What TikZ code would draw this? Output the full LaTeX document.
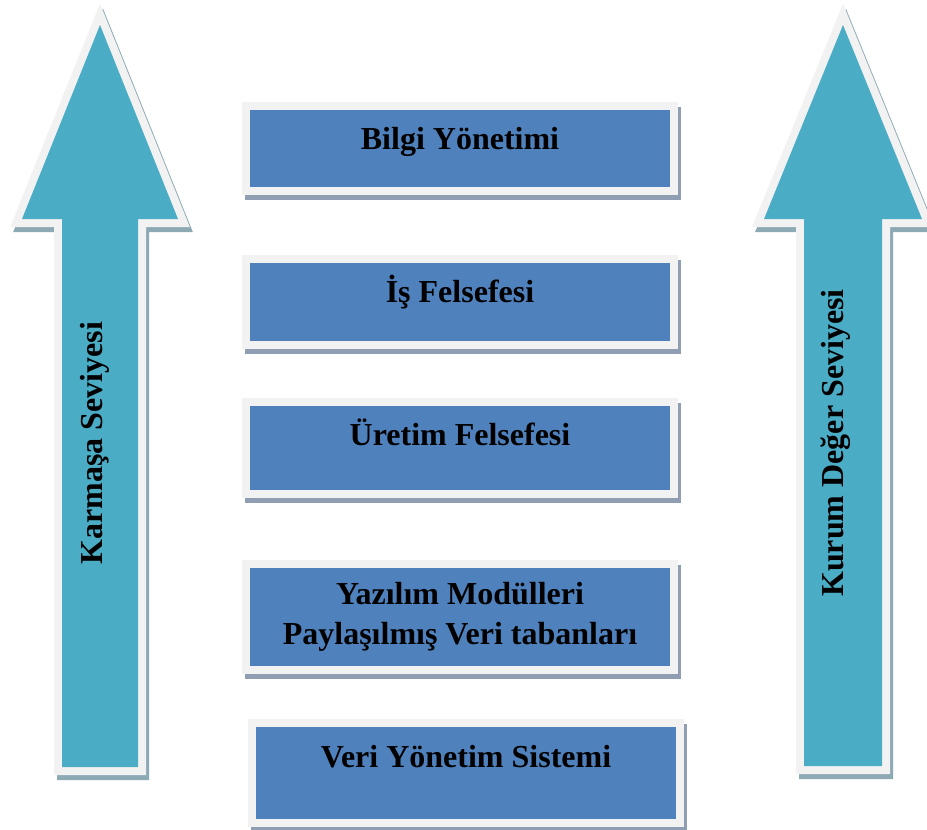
\documentclass[tikz,border=0pt]{standalone}
\usepackage{fontspec}
\setmainfont{Liberation Serif}
\definecolor{arrowfill}{HTML}{4BACC6}
\definecolor{boxfill}{HTML}{4F81BD}
\definecolor{rim}{HTML}{F2F2F2}
\definecolor{boxshade}{HTML}{909EB3}
\definecolor{arrowshade}{HTML}{8CA9B4}
\tikzset{
  layerbox/.style={rectangle, inner sep=0pt, fill=boxfill,
    minimum width=420pt,
    preaction={draw=boxshade, fill=boxshade, line width=16pt,
      transform canvas={xshift=3pt, yshift=-5pt}},
    preaction={draw=rim, line width=16pt}},
  layertext/.style={anchor=base, align=center, inner sep=0pt,
    font=\fontsize{32}{40}\selectfont\bfseries},
  sidetext/.style={anchor=base, rotate=90, inner sep=0pt,
    font=\fontsize{32}{40}\selectfont\bfseries},
  arrowshadow/.style={draw=arrowshade, fill=arrowshade, line width=16pt,
    line join=miter, transform canvas={xshift=3pt, yshift=-5pt}},
  arrowrim/.style={draw=rim, fill=rim, line width=16pt, line join=miter},
  arrowbody/.style={fill=arrowfill}
}
\begin{document}
\begin{tikzpicture}[x=1pt, y=-1pt]
\useasboundingbox (0,0) rectangle (927,830);

% left arrow: complexity
\def\leftarrowpath{(100,25) -- (178,219) -- (138,219) -- (138,767) -- (62,767) -- (62,219) -- (22,219) -- cycle}
\path[arrowshadow] \leftarrowpath;
\path[arrowrim] \leftarrowpath;
\path[arrowbody] \leftarrowpath;
\node[sidetext] (complexity) at (102,443) {Karmaşa Seviyesi};

% right arrow: organisational value
\def\rightarrowpath{(843,25) -- (922,219) -- (882,219) -- (882,766) -- (804,766) -- (804,219) -- (764,219) -- cycle}
\path[arrowshadow] \rightarrowpath;
\path[arrowrim] \rightarrowpath;
\path[arrowbody] \rightarrowpath;
\node[sidetext] (value) at (843,443) {Kurum Değer Seviyesi};

% layered boxes
\node[layerbox, minimum height=77pt] (b1) at (460,148.5) {};
\node[layerbox, minimum height=78pt] (b2) at (460,302) {};
\node[layerbox, minimum height=84pt] (b3) at (460,448) {};
\node[layerbox, minimum height=98pt] (b4) at (460,617) {};
\node[layerbox, minimum height=92pt] (b5) at (466,773) {};

\node[layertext] (t1) at ([yshift=-40pt]b1.north) {Bilgi Yönetimi};
\node[layertext] (t2) at ([yshift=-40pt]b2.north) {İş Felsefesi};
\node[layertext] (t3) at ([yshift=-40pt]b3.north) {Üretim Felsefesi};
% two-line label: its base anchor sits on the last line
\node[layertext] (t4) at ([yshift=-77pt]b4.north) {Yazılım Modülleri\\Paylaşılmış Veri tabanları};
\node[layertext] (t5) at ([yshift=-41pt]b5.north) {Veri Yönetim Sistemi};
\end{tikzpicture}
\end{document}
